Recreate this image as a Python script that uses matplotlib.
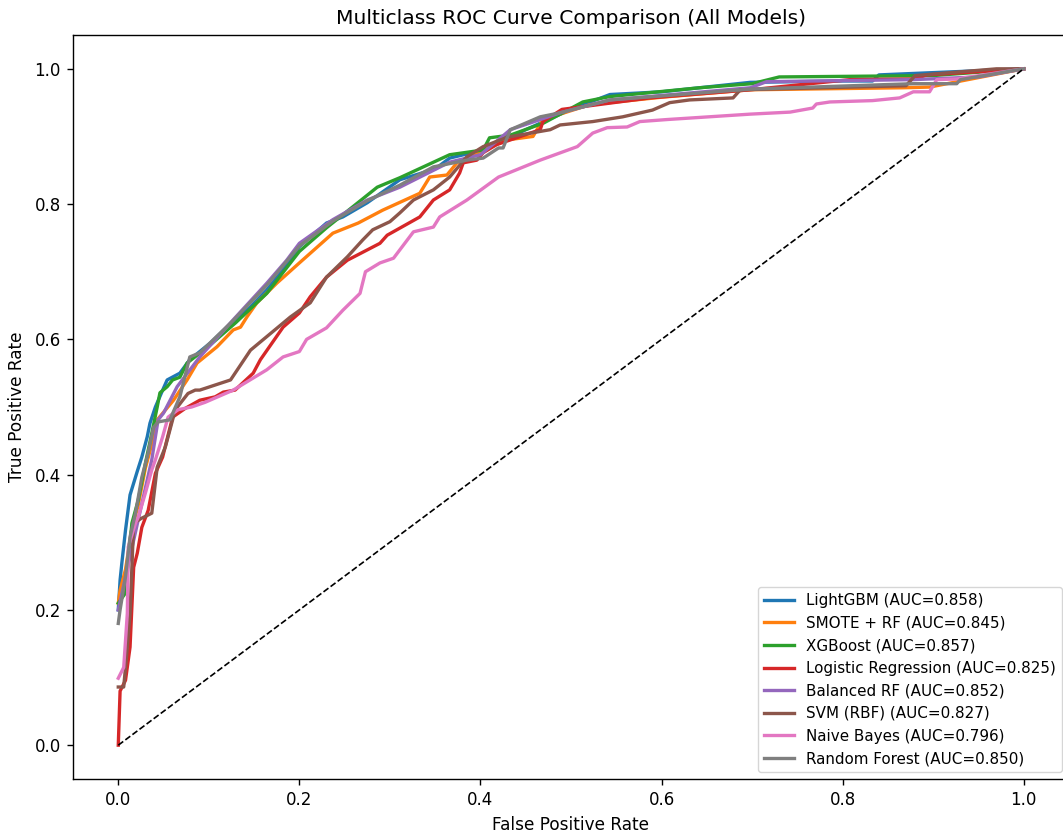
import matplotlib
matplotlib.use("Agg")
import matplotlib.pyplot as plt

# ---- data ----
lgbm_fpr = [0, 0.002, 0.004, 0.008, 0.013, 0.021, 0.026, 0.032, 0.035, 0.041, 0.049, 0.054, 0.068, 0.079, 0.102, 0.12, 0.146, 0.164, 0.182, 0.2, 0.23, 0.248, 0.275, 0.311, 0.35, 0.366, 0.403, 0.45, 0.5, 0.543, 0.6, 0.698, 0.8, 0.833, 0.84, 1.0]
lgbm_tpr = [0.2, 0.244, 0.27, 0.318, 0.37, 0.405, 0.426, 0.456, 0.476, 0.5, 0.525, 0.54, 0.55, 0.57, 0.595, 0.618, 0.648, 0.673, 0.703, 0.737, 0.772, 0.781, 0.802, 0.836, 0.852, 0.868, 0.88, 0.91, 0.94, 0.962, 0.966, 0.98, 0.982, 0.982, 0.991, 1.0]

smote_fpr = [0, 0.002, 0.008, 0.015, 0.022, 0.03, 0.037, 0.043, 0.061, 0.076, 0.087, 0.109, 0.127, 0.135, 0.142, 0.153, 0.175, 0.2, 0.237, 0.265, 0.292, 0.333, 0.344, 0.363, 0.374, 0.403, 0.43, 0.458, 0.469, 0.521, 0.6, 0.698, 0.867, 0.896, 1.0]
smote_tpr = [0.21, 0.229, 0.26, 0.32, 0.355, 0.41, 0.445, 0.481, 0.51, 0.54, 0.565, 0.589, 0.614, 0.618, 0.633, 0.654, 0.683, 0.713, 0.757, 0.772, 0.791, 0.816, 0.84, 0.843, 0.861, 0.88, 0.895, 0.9, 0.925, 0.947, 0.958, 0.969, 0.972, 0.973, 1.0]

xgb_fpr = [0, 0.008, 0.015, 0.022, 0.03, 0.037, 0.043, 0.046, 0.054, 0.06, 0.068, 0.076, 0.1, 0.13, 0.164, 0.2, 0.23, 0.259, 0.286, 0.311, 0.366, 0.403, 0.41, 0.433, 0.47, 0.513, 0.543, 0.642, 0.7, 0.73, 0.9, 1.0]
xgb_tpr = [0.21, 0.225, 0.328, 0.362, 0.417, 0.461, 0.5, 0.521, 0.53, 0.54, 0.544, 0.565, 0.59, 0.625, 0.668, 0.73, 0.765, 0.796, 0.825, 0.839, 0.873, 0.88, 0.898, 0.902, 0.92, 0.951, 0.959, 0.972, 0.978, 0.988, 0.99, 1.0]

lr_fpr = [0, 0.002, 0.008, 0.013, 0.017, 0.021, 0.026, 0.033, 0.041, 0.049, 0.06, 0.074, 0.09, 0.107, 0.116, 0.129, 0.149, 0.157, 0.182, 0.2, 0.212, 0.23, 0.253, 0.289, 0.297, 0.333, 0.348, 0.366, 0.377, 0.381, 0.396, 0.403, 0.418, 0.466, 0.469, 0.49, 0.587, 0.698, 0.808, 0.88, 0.893, 1.0]
lr_tpr = [0.0, 0.08, 0.096, 0.145, 0.263, 0.284, 0.322, 0.347, 0.402, 0.426, 0.485, 0.498, 0.51, 0.515, 0.522, 0.525, 0.55, 0.57, 0.618, 0.639, 0.663, 0.692, 0.717, 0.742, 0.754, 0.781, 0.806, 0.821, 0.846, 0.861, 0.865, 0.876, 0.888, 0.91, 0.922, 0.94, 0.957, 0.969, 0.984, 0.985, 0.991, 1.0]

brf_fpr = [0, 0.008, 0.022, 0.037, 0.044, 0.05, 0.065, 0.09, 0.127, 0.164, 0.186, 0.2, 0.237, 0.275, 0.311, 0.366, 0.4, 0.433, 0.488, 0.543, 0.698, 0.716, 0.878, 0.95, 1.0]
brf_tpr = [0.2, 0.249, 0.333, 0.422, 0.481, 0.491, 0.53, 0.574, 0.629, 0.683, 0.717, 0.742, 0.777, 0.806, 0.825, 0.862, 0.873, 0.91, 0.935, 0.954, 0.972, 0.981, 0.984, 0.988, 1.0]

svm_fpr = [0, 0.006, 0.01, 0.013, 0.017, 0.025, 0.037, 0.043, 0.052, 0.063, 0.077, 0.085, 0.09, 0.124, 0.146, 0.19, 0.212, 0.23, 0.253, 0.27, 0.281, 0.3, 0.311, 0.326, 0.348, 0.366, 0.385, 0.403, 0.43, 0.477, 0.488, 0.524, 0.557, 0.59, 0.609, 0.631, 0.679, 0.687, 0.87, 0.88, 0.97, 1.0]
svm_tpr = [0.086, 0.086, 0.145, 0.195, 0.328, 0.335, 0.343, 0.411, 0.441, 0.496, 0.52, 0.525, 0.525, 0.54, 0.584, 0.633, 0.654, 0.692, 0.722, 0.747, 0.762, 0.774, 0.787, 0.806, 0.821, 0.84, 0.87, 0.885, 0.899, 0.91, 0.917, 0.922, 0.929, 0.939, 0.95, 0.954, 0.957, 0.969, 0.975, 0.99, 1.0, 1.0]

nb_fpr = [0, 0.006, 0.01, 0.011, 0.019, 0.022, 0.03, 0.037, 0.041, 0.049, 0.055, 0.066, 0.081, 0.096, 0.127, 0.164, 0.182, 0.2, 0.208, 0.23, 0.248, 0.267, 0.273, 0.289, 0.304, 0.326, 0.348, 0.355, 0.385, 0.42, 0.466, 0.507, 0.524, 0.54, 0.562, 0.576, 0.606, 0.698, 0.742, 0.767, 0.771, 0.786, 0.833, 0.863, 0.878, 0.896, 0.904, 0.926, 1.0]
nb_tpr = [0.099, 0.115, 0.195, 0.293, 0.328, 0.337, 0.373, 0.407, 0.422, 0.456, 0.485, 0.496, 0.5, 0.507, 0.525, 0.555, 0.574, 0.582, 0.6, 0.617, 0.643, 0.668, 0.7, 0.713, 0.72, 0.759, 0.766, 0.781, 0.806, 0.84, 0.865, 0.885, 0.905, 0.913, 0.914, 0.922, 0.925, 0.933, 0.936, 0.942, 0.948, 0.951, 0.953, 0.957, 0.966, 0.966, 0.984, 0.985, 1.0]

rf_fpr = [0, 0.002, 0.008, 0.013, 0.019, 0.026, 0.033, 0.039, 0.044, 0.057, 0.068, 0.079, 0.09, 0.127, 0.164, 0.2, 0.237, 0.275, 0.311, 0.348, 0.385, 0.403, 0.42, 0.425, 0.433, 0.466, 0.488, 0.543, 0.698, 0.878, 0.926, 0.93, 1.0]
rf_tpr = [0.18, 0.2, 0.249, 0.308, 0.343, 0.396, 0.432, 0.47, 0.478, 0.481, 0.515, 0.574, 0.58, 0.628, 0.68, 0.738, 0.775, 0.805, 0.828, 0.855, 0.865, 0.868, 0.883, 0.883, 0.91, 0.929, 0.935, 0.954, 0.97, 0.978, 0.978, 0.984, 1.0]

model_names = ["LightGBM", "SMOTE + RF", "XGBoost", "Logistic Regression",
               "Balanced RF", "SVM (RBF)", "Naive Bayes", "Random Forest"]
auc_values = [0.858, 0.845, 0.857, 0.825, 0.852, 0.827, 0.796, 0.850]
curves = [(lgbm_fpr, lgbm_tpr), (smote_fpr, smote_tpr), (xgb_fpr, xgb_tpr),
          (lr_fpr, lr_tpr), (brf_fpr, brf_tpr), (svm_fpr, svm_tpr),
          (nb_fpr, nb_tpr), (rf_fpr, rf_tpr)]

plt.rcParams["axes.linewidth"] = 1.0

fig = plt.figure(figsize=(10.63, 8.34), dpi=100)
ax = fig.add_axes([73/1063, 55/834, (1069-73)/1063, (799-55)/834])

for name, auc, (fpr, tpr) in zip(model_names, auc_values, curves):
    ax.plot(fpr, tpr, lw=2.4, label=f"{name} (AUC={auc:.3f})")

ax.plot([0, 1], [0, 1], "k--", lw=1.2)
ax.set_xlabel("False Positive Rate", fontsize=12.2, labelpad=5)
ax.set_ylabel("True Positive Rate", fontsize=12.2, labelpad=6)
ax.set_title("Multiclass ROC Curve Comparison (All Models)", fontsize=14.6, pad=8)
ax.tick_params(labelsize=12, length=4.3, width=1.0, pad=4.5)
ax.legend(loc="lower right", fontsize=10.9, borderaxespad=0.45)

fig.savefig("out.png", dpi=100)
